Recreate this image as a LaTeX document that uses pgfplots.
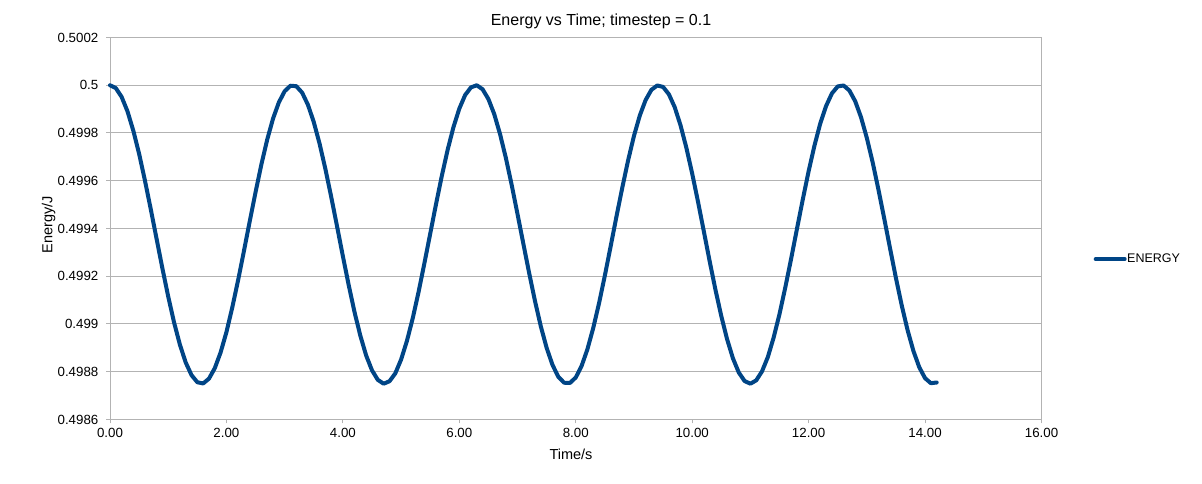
\documentclass[border=0pt]{standalone}
\usepackage{pgfplots}
\usepackage{pgfplotstable}
\pgfplotsset{compat=1.18}
\usepackage{fontspec}
\setmainfont{Liberation Sans}
\definecolor{lineblue}{HTML}{004586}
\definecolor{gridgray}{HTML}{B3B3B3}
\pgfplotstableread{
t E
0.0 0.500000
0.1 0.499988
0.2 0.499951
0.3 0.499891
0.4 0.499810
0.5 0.499713
0.6 0.499601
0.7 0.499481
0.8 0.499357
0.9 0.499233
1.0 0.499115
1.1 0.499007
1.2 0.498914
1.3 0.498839
1.4 0.498786
1.5 0.498756
1.6 0.498751
1.7 0.498771
1.8 0.498815
1.9 0.498881
2.0 0.498966
2.1 0.499069
2.2 0.499183
2.3 0.499305
2.4 0.499430
2.5 0.499552
2.6 0.499668
2.7 0.499772
2.8 0.499860
2.9 0.499928
3.0 0.499975
3.1 0.499998
3.2 0.499996
3.3 0.499969
3.4 0.499918
3.5 0.499846
3.6 0.499755
3.7 0.499649
3.8 0.499532
3.9 0.499409
4.0 0.499284
4.1 0.499163
4.2 0.499050
4.3 0.498951
4.4 0.498868
4.5 0.498806
4.6 0.498766
4.7 0.498750
4.8 0.498760
4.9 0.498793
5.0 0.498851
5.1 0.498929
5.2 0.499024
5.3 0.499134
5.4 0.499254
5.5 0.499378
5.6 0.499502
5.7 0.499621
5.8 0.499730
5.9 0.499825
6.0 0.499902
6.1 0.499959
6.2 0.499991
6.3 0.500000
6.4 0.499983
6.5 0.499942
6.6 0.499879
6.7 0.499795
6.8 0.499695
6.9 0.499582
7.0 0.499460
7.1 0.499336
7.2 0.499213
7.3 0.499096
7.4 0.498990
7.5 0.498900
7.6 0.498829
7.7 0.498779
7.8 0.498754
7.9 0.498753
8.0 0.498776
8.1 0.498824
8.2 0.498894
8.3 0.498983
8.4 0.499087
8.5 0.499203
8.6 0.499326
8.7 0.499451
8.8 0.499572
8.9 0.499686
9.0 0.499788
9.1 0.499873
9.2 0.499938
9.3 0.499981
9.4 0.499999
9.5 0.499993
9.6 0.499962
9.7 0.499908
9.8 0.499832
9.9 0.499738
10.0 0.499630
10.1 0.499512
10.2 0.499388
10.3 0.499263
10.4 0.499143
10.5 0.499033
10.6 0.498936
10.7 0.498856
10.8 0.498797
10.9 0.498761
11.0 0.498750
11.1 0.498764
11.2 0.498802
11.3 0.498862
11.4 0.498944
11.5 0.499042
11.6 0.499154
11.7 0.499274
11.8 0.499399
11.9 0.499522
12.0 0.499640
12.1 0.499747
12.2 0.499840
12.3 0.499913
12.4 0.499966
12.5 0.499995
12.6 0.499999
12.7 0.499978
12.8 0.499933
12.9 0.499866
13.0 0.499779
13.1 0.499677
13.2 0.499562
13.3 0.499440
13.4 0.499315
13.5 0.499192
13.6 0.499077
13.7 0.498974
13.8 0.498887
13.9 0.498819
14.0 0.498773
14.1 0.498752
14.2 0.498755
}\energydata
\begin{document}
\begin{tikzpicture}
\path[use as bounding box, fill=white] (0,0) rectangle (1202pt,484pt);
\begin{axis}[
  at={(110pt,64.5pt)}, anchor=south west,
  scale only axis, width=931.5pt, height=382pt,
  xmin=0, xmax=16, ymin=0.4986, ymax=0.5002,
  xtick={0,2,...,16},
  xticklabels={0.00,2.00,4.00,6.00,8.00,10.00,12.00,14.00,16.00},
  ytick={0.4986,0.4988,0.499,0.4992,0.4994,0.4996,0.4998,0.5,0.5002},
  yticklabels={0.4986,0.4988,0.499,0.4992,0.4994,0.4996,0.4998,0.5,0.5002},
  scaled y ticks=false,
  ymajorgrids, grid style={gridgray, line width=1pt},
  axis line style={gridgray, line width=1pt},
  tick style={gridgray, line width=1pt},
  tick pos=left, tick align=outside, major tick length=4pt,
  /pgf/number format/assume math mode=true,
  ticklabel style={font=\fontsize{13.3}{15}\selectfont, text=black},
  xticklabel style={inner sep=0pt, anchor=north, yshift=-5pt},
  yticklabel style={inner sep=0pt, anchor=east, xshift=-7.5pt},
  legend style={draw=none, fill=none, at={(1.0558,0.42)}, anchor=west, inner sep=0pt,
    font=\fontsize{12.5}{15}\selectfont, nodes={inner sep=0.5pt}},
  legend image code/.code={\draw[#1] (0pt,0pt) -- (29pt,0pt);},
  clip=false,
]
\addplot[lineblue, line width=4pt, line join=round, line cap=round] table[x=t, y=E] {\energydata};
\addlegendentry{ENERGY}
\end{axis}
\node[font=\fontsize{16}{19}\selectfont, anchor=base] at (601pt,458pt) {Energy vs Time; timestep = 0.1};
\node[font=\fontsize{14.5}{17}\selectfont] at (571pt,30pt) {Time/s};
\node[font=\fontsize{14.5}{17}\selectfont, rotate=90] at (48.5pt,259pt) {Energy/J};
\end{tikzpicture}
\end{document}
